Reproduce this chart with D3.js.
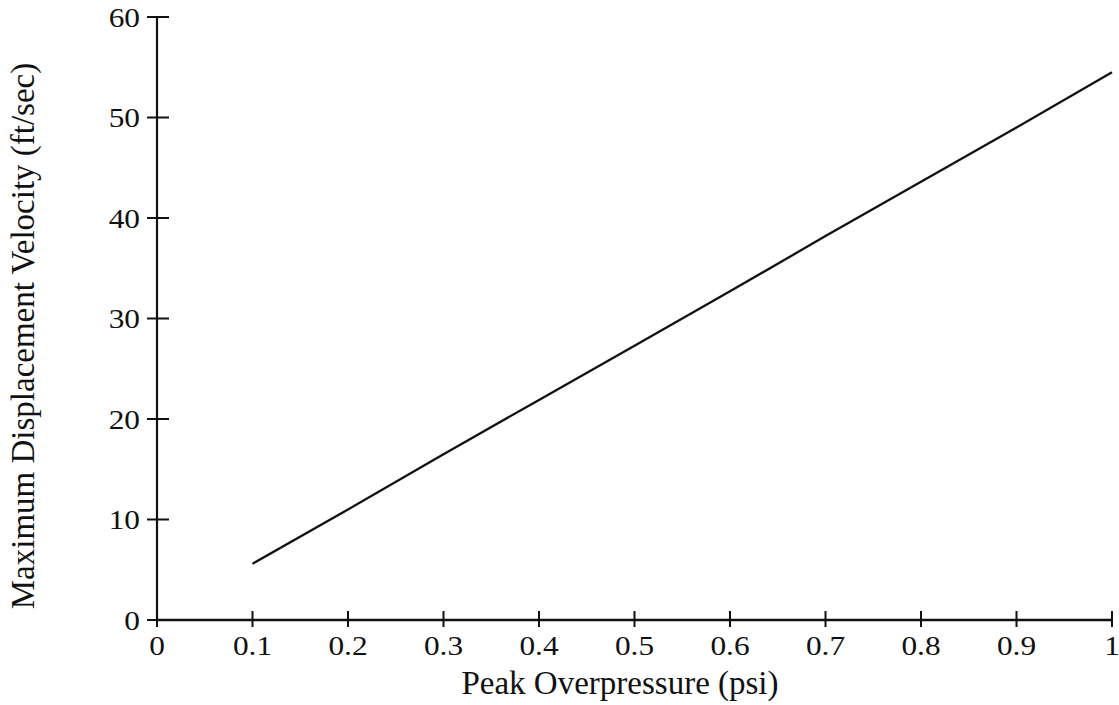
<!DOCTYPE html>
<html><head><meta charset="utf-8">
<script src="https://cdn.jsdelivr.net/npm/d3@7"></script>
<style>body{margin:0;background:#fff}svg{display:block}text{font-family:"Liberation Serif","Times New Roman",serif;fill:#111}</style>
</head><body><svg id="c" width="1119" height="705"></svg>
<script>
const pressure = [0.1,0.2,0.3,0.4,0.5,0.6,0.7,0.8,0.9,1.0];
const velocity = [5.6,11.0,16.5,21.9,27.3,32.7,38.2,43.6,49.0,54.5];
const xTicks = [0,0.1,0.2,0.3,0.4,0.5,0.6,0.7,0.8,0.9,1];
const xTickLabels = ["0","0.1","0.2","0.3","0.4","0.5","0.6","0.7","0.8","0.9","1"];
const yTicks = [0,10,20,30,40,50,60];
const xTitle = "Peak Overpressure (psi)";
const yTitle = "Maximum Displacement Velocity (ft/sec)";

const svg = d3.select("#c");
const x = d3.scaleLinear().domain([0,1]).range([157,1112]);
const y = d3.scaleLinear().domain([0,60]).range([620,17]);
const fs = 28, tfs = 33;

// axes lines
svg.append("line").attr("x1",x(0)).attr("x2",x(1)).attr("y1",y(0)).attr("y2",y(0)).attr("stroke","#111").attr("stroke-width",2.5);
svg.append("line").attr("x1",x(0)).attr("x2",x(0)).attr("y1",y(0)).attr("y2",y(60)).attr("stroke","#111").attr("stroke-width",2.2);

// y ticks
const yg = svg.append("g");
yg.selectAll("line").data(yTicks).join("line")
  .attr("x1",x(0)-10).attr("x2",x(0)+12).attr("y1",d=>y(d)).attr("y2",d=>y(d))
  .attr("stroke","#111").attr("stroke-width",2);
yg.selectAll("text").data(yTicks).join("text")
  .attr("transform",d=>`translate(${x(0)-17},${y(d)}) scale(1.12,1)`)
  .attr("dy","0.34em").attr("text-anchor","end")
  .attr("font-size",fs).text(d=>d);

// x ticks
const xg = svg.append("g");
xg.selectAll("line").data(xTicks).join("line")
  .attr("x1",d=>x(d)).attr("x2",d=>x(d)).attr("y1",y(0)-9).attr("y2",y(0)+7)
  .attr("stroke","#111").attr("stroke-width",2);
xg.selectAll("text").data(xTicks).join("text")
  .attr("transform",d=>`translate(${x(d)},${y(0)+35}) scale(1.12,1)`)
  .attr("text-anchor","middle")
  .attr("font-size",fs).text((d,i)=>xTickLabels[i]);

// titles
svg.append("text").attr("x",620).attr("y",694).attr("text-anchor","middle")
  .attr("font-size",tfs).text(xTitle);
svg.append("text").attr("transform","translate(34,336) rotate(-90)")
  .attr("text-anchor","middle").attr("font-size",tfs).text(yTitle);

// line
const line = d3.line().x((d,i)=>x(pressure[i])).y(d=>y(d));
svg.append("path").datum(velocity).attr("d",line).attr("fill","none").attr("stroke","#111").attr("stroke-width",2.3);
</script></body></html>
